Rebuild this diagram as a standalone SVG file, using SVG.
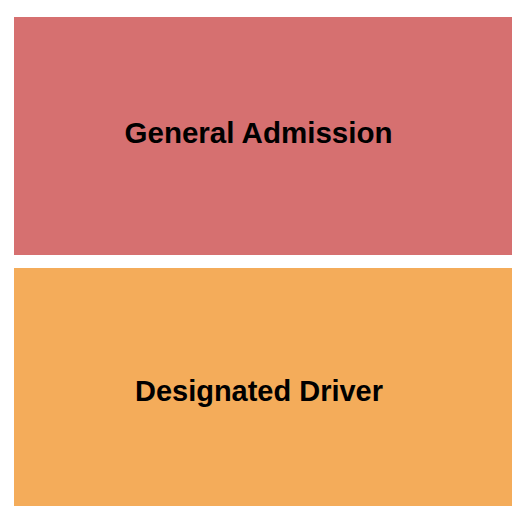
<svg xmlns="http://www.w3.org/2000/svg" width="525" height="525" viewBox="0 0 525 525">
<style>
.lbl{font-family:"Liberation Sans",Arial,sans-serif;font-weight:bold;font-size:29.5px;fill:#000;text-anchor:middle}
</style>
<rect x="0" y="0" width="525" height="525" fill="#ffffff"/>
<g id="general-admission">
<rect x="14" y="17" width="498" height="238" fill="#d67070"/>
<text class="lbl" x="258.5" y="143" textLength="268" lengthAdjust="spacingAndGlyphs">General Admission</text>
</g>
<g id="designated-driver">
<rect x="14" y="268" width="498" height="238" fill="#f4ac5a"/>
<text class="lbl" x="259" y="401" textLength="248" lengthAdjust="spacingAndGlyphs">Designated Driver</text>
</g>
<g id="connectors"></g>
</svg>
